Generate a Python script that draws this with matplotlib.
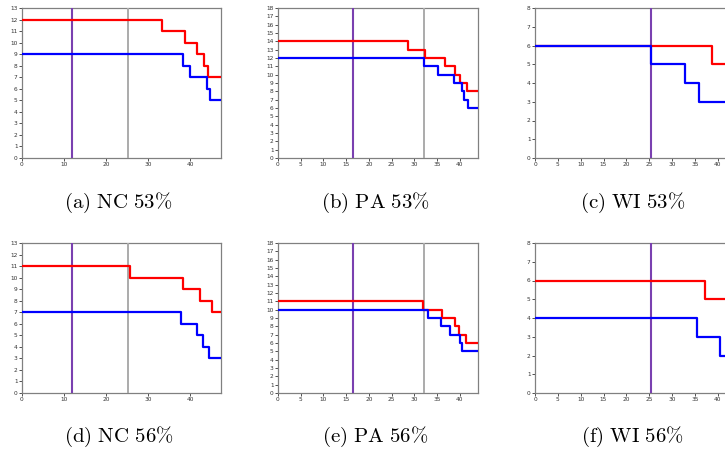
import matplotlib
matplotlib.use("Agg")
import matplotlib.pyplot as plt
import numpy as np

plt.rcParams['mathtext.fontset'] = 'cm'

# ---- data ----
captions = [r'(a) NC 53\%', r'(b) PA 53\%', r'(c) WI 53\%',
            r'(d) NC 56\%', r'(e) PA 56\%', r'(f) WI 56\%']
xmax = [47.3, 44.0, 44.0, 47.3, 44.0, 44.0]
ymax = [13, 18, 8, 13, 18, 8]
xtick_step = [10, 5, 5, 10, 5, 5]
purple_x = [11.8, 16.4, 25.4, 11.8, 16.4, 25.4]
gray_x = [25.3, 32.1, None, 25.3, 32.1, None]

# red series: change points (x) and levels (y); level i holds from x[i] onward
red_x = [
    [0, 33.3, 38.7, 41.7, 43.3, 44.3],
    [0, 28.5, 32.4, 36.8, 38.9, 40.1, 41.6],
    [0, 38.8],
    [0, 25.6, 38.3, 42.2, 45.2],
    [0, 32.0, 36.1, 39.0, 39.9, 41.3],
    [0, 37.2],
]
red_y = [
    [12, 11, 10, 9, 8, 7],
    [14, 13, 12, 11, 10, 9, 8],
    [6, 5],
    [11, 10, 9, 8, 7],
    [11, 10, 9, 8, 7, 6],
    [6, 5],
]
blue_x = [
    [0, 38.2, 40.0, 43.9, 44.6],
    [0, 32.2, 35.2, 38.7, 40.5, 40.9, 41.8],
    [0, 25.4, 32.9, 35.8],
    [0, 37.8, 41.5, 43.0, 44.4],
    [0, 33.0, 35.9, 37.9, 40.1, 40.5],
    [0, 35.5, 40.5],
]
blue_y = [
    [9, 8, 7, 6, 5],
    [12, 11, 10, 9, 8, 7, 6],
    [6, 5, 4, 3],
    [7, 6, 5, 4, 3],
    [10, 9, 8, 7, 6, 5],
    [4, 3, 2],
]

W, H = 725, 451
fig = plt.figure(figsize=(W / 100, H / 100), dpi=100)

lefts = [22, 278, 535]
widths = [199, 200, 201]
tops = [8, 243]
ah = 150
cap_y = [203, 437]

spine_c = '#808080'
for i in range(6):
    r, c = divmod(i, 3)
    ax = fig.add_axes([lefts[c] / W, 1 - (tops[r] + ah) / H, widths[c] / W, ah / H])
    ax.set_xlim(0, xmax[i])
    ax.set_ylim(0, ymax[i])
    ax.set_xticks(np.arange(0, xmax[i] + 0.01, xtick_step[i]))
    ax.set_yticks(np.arange(0, ymax[i] + 1, 1))
    ax.tick_params(labelsize=4.2, length=2, width=0.6, pad=1.2,
                   colors='#333333')
    for s in ax.spines.values():
        s.set_color(spine_c)
        s.set_linewidth(0.9)
    ax.axvline(purple_x[i], color='#7a40b0', lw=1.5, zorder=3)
    if gray_x[i] is not None:
        ax.axvline(gray_x[i], color='#ababab', lw=1.4, zorder=3)
    rx = red_x[i] + [xmax[i] + 1]
    ry = red_y[i] + [red_y[i][-1]]
    ax.step(rx, ry, where='post', color='#ff0000', lw=1.6, zorder=4)
    bx = blue_x[i] + [xmax[i] + 1]
    by = blue_y[i] + [blue_y[i][-1]]
    ax.step(bx, by, where='post', color='#0000ff', lw=1.6, zorder=5)
    cx = (lefts[c] + widths[c] / 2 - 3) / W
    fig.text(cx, 1 - cap_y[r] / H, r'$\mathrm{' + captions[i].replace(' ', r'\ ') + '}$',
             ha='center', va='center', fontsize=15)

fig.savefig('out.png', dpi=100)
